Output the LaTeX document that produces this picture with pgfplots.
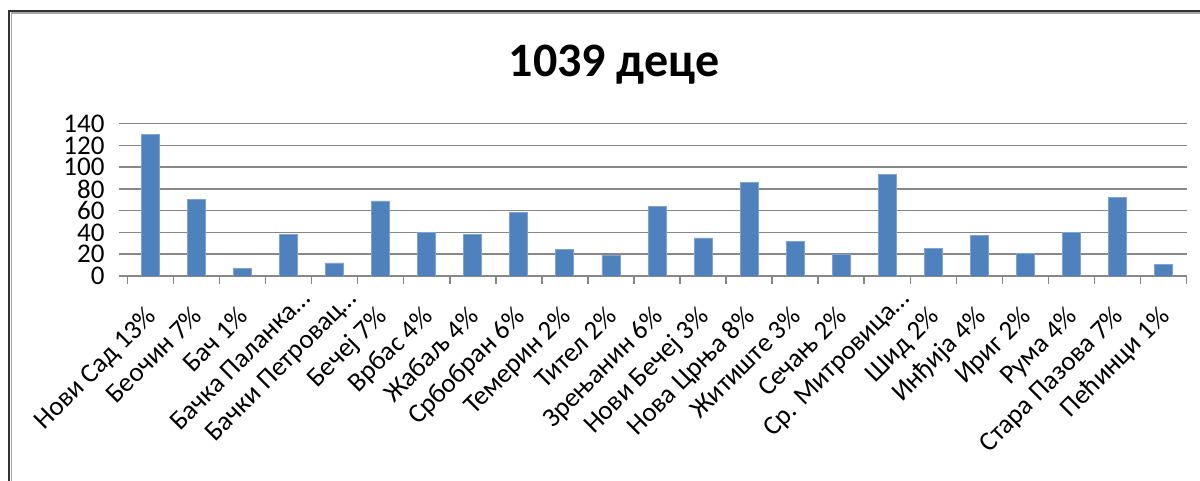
\documentclass[border=0pt]{standalone}
\usepackage{fontspec}
\setmainfont{Carlito}
\usepackage{pgfplots}
\pgfplotsset{compat=1.18}
\definecolor{barblue}{HTML}{4F81BD}
\definecolor{baredge}{HTML}{7EA3D3}
\definecolor{gridgray}{HTML}{878787}
\newcommand{\trunc}[1]{\makebox[\dimexpr\width-12pt\relax][l]{#1}}
\begin{document}
\begin{tikzpicture}
\useasboundingbox (0,0) rectangle (600pt,240.5pt);
\fill[white] (0,0) rectangle (600pt,240.5pt);
\draw[line width=1.15pt, color=black!80] (4.6pt,0) -- (4.6pt,235pt) -- (600pt,235pt);
\draw[line width=0.9pt, color=black!35] (5.7pt,0) -- (5.7pt,234.1pt) -- (600pt,234.1pt);
\node[anchor=base, font=\fontsize{24}{28}\selectfont\bfseries] at (307pt,202.2pt) {1039 деце};
\begin{axis}[
  at={(63.7pt,102.5pt)}, anchor=south west,
  scale only axis, width=529.6pt, height=76.15pt,
  xmin=-0.5, xmax=22.5, ymin=0, ymax=140,
  axis x line*=bottom, axis y line*=left,
  x axis line style={-, gridgray, line width=0.75pt},
  y axis line style={draw=none},
  tick align=outside,
  ytick={0,20,...,140},
  xtick={0,...,22},
  minor xtick={-0.5,0.5,...,22.5},
  major x tick style={draw=none},
  minor x tick style={gridgray, line width=0.75pt},
  y tick style={gridgray, line width=0.75pt},
  major tick length=4.4pt,
  minor tick length=4pt,
  ymajorgrids,
  major grid style={gridgray, line width=0.75pt},
  /pgf/number format/assume math mode=true,
  yticklabel style={font=\fontsize{13.5}{14}\selectfont, xshift=-3.5pt},
  xticklabel style={font=\fontsize{13.5}{14}\selectfont, xshift=-3pt, yshift=-8.3pt, rotate=45, anchor=north east, inner sep=1pt},
  xticklabels={Нови Сад 13\%, Беочин 7\%, Бач 1\%, \trunc{Бачка Паланка…}, \trunc{Бачки Петровац…}, Бечеј 7\%, Врбас 4\%, Жабаљ 4\%, Србобран 6\%, Темерин 2\%, Тител 2\%, Зрењанин 6\%, Нови Бечеј 3\%, Нова Црња 8\%, Житиште 3\%, Сечањ 2\%, \trunc{Ср. Митровица…}, Шид 2\%, Инђија 4\%, Ириг 2\%, Рума 4\%, Стара Пазова 7\%, Пећинци 1\%},
]
\addplot[ybar, bar width=9pt, bar shift=0pt, fill=barblue, draw=baredge, line width=0.4pt]
coordinates {(0,130) (1,70) (2,7) (3,38) (4,12) (5,69) (6,40) (7,38) (8,58) (9,24) (10,19) (11,64) (12,35) (13,86) (14,32) (15,20) (16,93) (17,25) (18,37) (19,21) (20,40) (21,72) (22,11)};
\end{axis}
\end{tikzpicture}
\end{document}
